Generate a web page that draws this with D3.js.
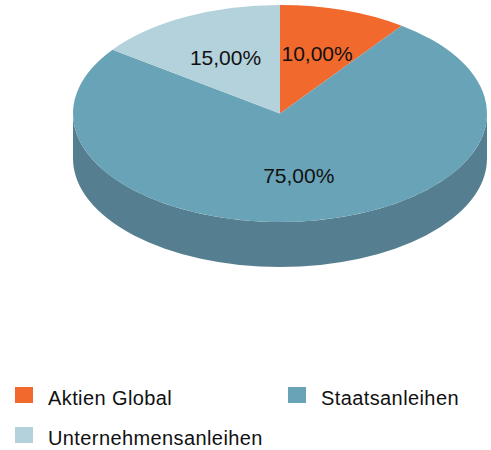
<!DOCTYPE html>
<html>
<head>
<meta charset="utf-8">
<script src="https://cdn.jsdelivr.net/npm/d3@7"></script>
<style>
  body { margin: 0; background: #fff; }
  svg text { font-family: "Liberation Sans", Arial, sans-serif; fill: #111; }
</style>
</head>
<body>
<div id="chart"></div>
<script>
const width = 491, height = 450;

const categories = ["Aktien Global", "Staatsanleihen", "Unternehmensanleihen"];
const values = [10, 75, 15];
const labels = ["10,00%", "75,00%", "15,00%"];
const colors = ["#f2692d", "#69a3b7", "#b4d2db"];
const sideColors = ["#b5552a", "#557f90", "#8fa9b1"];

// 3d pie geometry
const cx = 280, cy = 113.5, rx = 207, ry = 108.5, depth = 45;

const svg = d3.select("#chart")
  .append("svg")
  .attr("width", width)
  .attr("height", height);

const pie = d3.pie().sort(null).value(d => d)
  .startAngle(0).endAngle(2 * Math.PI);
const arcs = pie(values);

const pt = (a, dy) => [cx + rx * Math.sin(a), cy - ry * Math.cos(a) + (dy || 0)];

// side walls (only the front half is visible)
const side = svg.append("g");
arcs.forEach((d, i) => {
  const a0 = Math.max(d.startAngle, Math.PI / 2);
  const a1 = Math.min(d.endAngle, 3 * Math.PI / 2);
  if (a1 <= a0) return;
  const large = (a1 - a0) > Math.PI ? 1 : 0;
  const p0 = pt(a0), p1 = pt(a1), q1 = pt(a1, depth), q0 = pt(a0, depth);
  const path = `M${p0}A${rx},${ry} 0 ${large} 1 ${p1}L${q1}A${rx},${ry} 0 ${large} 0 ${q0}Z`;
  side.append("path").attr("d", path).attr("fill", sideColors[i]);
});

// top face
const arc = d3.arc().innerRadius(0).outerRadius(rx);
const topFace = svg.append("g")
  .attr("transform", `translate(${cx},${cy}) scale(1,${ry / rx})`);
topFace.selectAll("path")
  .data(arcs)
  .enter().append("path")
  .attr("d", arc)
  .attr("fill", (_, i) => colors[i]);

// slice labels
const labelArc = d3.arc().innerRadius(rx * 0.58).outerRadius(rx * 0.58);
svg.append("g")
  .selectAll("text")
  .data(arcs)
  .enter().append("text")
  .attr("x", d => cx + labelArc.centroid(d)[0])
  .attr("y", d => cy + labelArc.centroid(d)[1] * ry / rx)
  .attr("dy", "0.35em")
  .attr("text-anchor", "middle")
  .attr("font-size", "21px")
  .text((_, i) => labels[i]);

// legend
const legend = svg.append("g")
  .selectAll("g")
  .data(categories)
  .enter().append("g")
  .attr("transform", (_, i) => `translate(${i % 2 ? 288 : 15},${387 + Math.floor(i / 2) * 40})`);

legend.append("rect")
  .attr("width", 18)
  .attr("height", 16)
  .attr("fill", (_, i) => colors[i]);

legend.append("text")
  .attr("x", 33)
  .attr("y", 18)
  .attr("font-size", "20px")
  .attr("letter-spacing", "0.4px")
  .text(d => d);
</script>
</body>
</html>
